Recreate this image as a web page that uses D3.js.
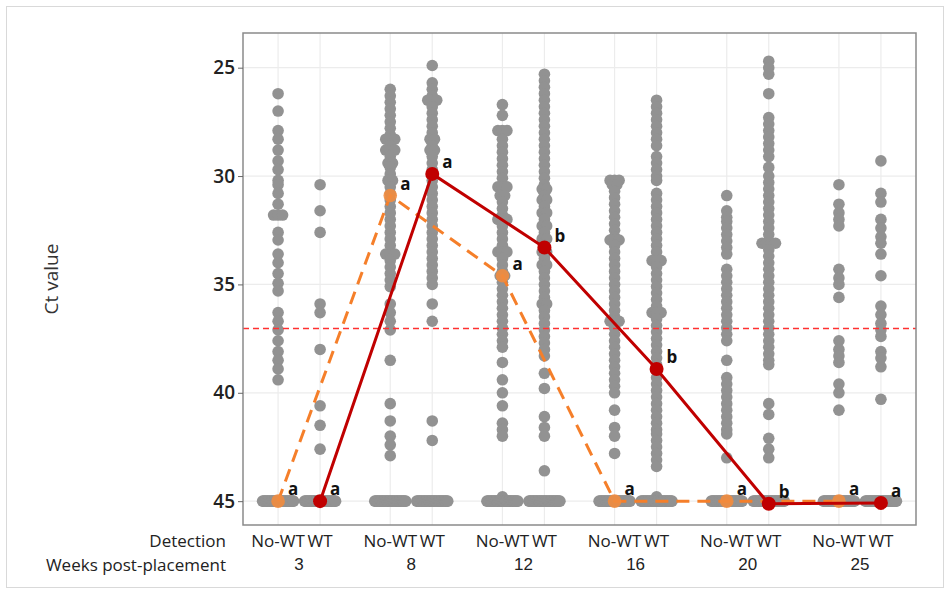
<!DOCTYPE html>
<html>
<head>
<meta charset="utf-8">
<script src="https://cdn.jsdelivr.net/npm/d3@7"></script>
<style>
  body { margin: 0; background: #fff; }
  svg { display: block; font-family: "Open Sans", "Noto Sans", sans-serif; }
  .tick text { fill: #222; }
</style>
</head>
<body>
<div id="chart"></div>
<script>
/* global d3 */

// categories
const weeks = ['3', '8', '12', '16', '20', '25'];
const detection = ['No-WT', 'WT'];
const yTicks = [25, 30, 35, 40, 45];
const threshold = 37;

// group means (Ct) and letters
const meanNoWT = [45, 30.9, 34.6, 45, 45, 45];
const meanWT = [45, 29.9, 33.3, 38.9, 45.12, 45.08];
const lettersNoWT = ['a', 'a', 'a', 'a', 'a', 'a'];
const lettersWT = ['a', 'a', 'b', 'b', 'b', 'a'];

// non-detects (plotted at Ct 45) per category
const nonDetectNoWT = [30, 30, 30, 30, 30, 30];
const nonDetectWT = [30, 30, 30, 30, 30, 30];

// detected Ct values per category
const ctNoWT3 = [26.2, 27.0, 27.9, 28.3, 28.8, 29.3, 29.7, 30.2, 30.4, 30.8, 31.3, 31.8, 31.8, 31.8, 32.6, 32.95, 33.6, 34.0, 34.5, 34.95, 35.3, 36.3, 36.7, 37.1, 37.6, 38.1, 38.5, 38.9, 39.4];
const ctWT3 = [30.4, 31.6, 32.6, 35.9, 36.3, 38.0, 40.6, 41.5, 42.6];
const ctNoWT8 = [26.0, 26.3, 26.6, 26.9, 27.2, 27.5, 27.8, 28.1, 28.3, 28.3, 28.3, 28.6, 28.8, 28.8, 28.8, 29.1, 29.4, 29.4, 29.6, 29.9, 30.2, 30.2, 30.5, 30.8, 31.1, 31.4, 31.7, 32.0, 32.3, 32.6, 32.9, 33.2, 33.6, 33.6, 33.6, 33.9, 34.2, 34.5, 34.8, 35.1, 35.9, 36.3, 36.7, 37.1, 38.5, 40.5, 41.3, 42.0, 42.4, 42.9];
const ctWT8 = [24.9, 25.7, 26.0, 26.3, 26.5, 26.5, 26.5, 26.8, 27.1, 27.4, 27.7, 28.0, 28.3, 28.3, 28.6, 28.8, 28.8, 29.1, 29.4, 29.7, 29.9, 30.0, 30.2, 30.5, 30.8, 31.1, 31.4, 31.7, 32.0, 32.3, 32.6, 32.9, 33.2, 33.5, 33.8, 34.1, 34.4, 34.7, 35.0, 35.9, 36.7, 41.3, 42.2];
const ctNoWT12 = [26.7, 27.2, 27.9, 27.9, 27.9, 28.3, 28.6, 28.9, 29.2, 29.5, 29.8, 30.1, 30.5, 30.5, 30.5, 30.9, 30.9, 31.2, 31.5, 31.8, 32.0, 32.0, 32.0, 32.3, 32.6, 32.9, 33.2, 33.5, 33.5, 33.5, 33.8, 34.1, 34.4, 34.6, 34.6, 34.9, 35.2, 35.5, 35.8, 36.1, 36.4, 36.7, 37.0, 37.3, 37.6, 37.9, 38.6, 39.4, 40.0, 40.6, 41.4, 41.7, 42.0, 44.8];
const ctWT12 = [25.3, 25.6, 25.9, 26.2, 26.5, 26.8, 27.1, 27.4, 27.7, 28.0, 28.3, 28.6, 28.9, 29.2, 29.5, 29.8, 30.1, 30.4, 30.6, 30.6, 30.9, 31.1, 31.1, 31.4, 31.7, 31.7, 32.0, 32.3, 32.3, 32.6, 32.9, 32.9, 33.2, 33.5, 33.5, 33.8, 34.1, 34.1, 34.4, 34.7, 35.0, 35.3, 35.6, 35.9, 35.9, 36.2, 36.5, 36.8, 37.1, 37.4, 37.7, 38.0, 38.3, 39.1, 39.8, 41.1, 41.6, 42.0, 43.6];
const ctNoWT16 = [30.2, 30.2, 30.2, 30.4, 30.4, 30.7, 31.0, 31.3, 31.6, 31.9, 32.2, 32.5, 32.8, 32.95, 32.95, 32.95, 33.2, 33.5, 33.8, 34.1, 34.4, 34.7, 35.0, 35.3, 35.6, 35.9, 36.2, 36.5, 36.7, 36.7, 36.7, 37.0, 37.3, 37.6, 37.9, 38.2, 38.5, 38.8, 39.1, 39.4, 39.7, 40.0, 40.8, 41.6, 42.0, 42.8];
const ctWT16 = [26.5, 26.8, 27.1, 27.4, 27.7, 28.0, 28.3, 28.6, 29.1, 29.4, 29.7, 30.0, 30.2, 30.8, 31.1, 31.4, 31.7, 32.0, 32.3, 32.6, 32.9, 33.2, 33.5, 33.9, 33.9, 33.9, 34.2, 34.5, 34.8, 35.1, 35.4, 35.7, 36.0, 36.3, 36.3, 36.3, 36.6, 36.9, 37.2, 37.5, 37.8, 38.1, 38.4, 38.7, 39.0, 39.3, 39.6, 39.9, 40.2, 40.5, 40.8, 41.1, 41.4, 41.7, 41.9, 42.2, 42.5, 42.8, 43.1, 43.4, 44.8];
const ctNoWT20 = [30.9, 31.6, 31.9, 32.1, 32.4, 32.7, 33.0, 33.3, 33.6, 34.3, 34.6, 34.9, 35.2, 35.5, 35.8, 36.1, 36.4, 36.7, 37.0, 37.3, 37.6, 38.5, 39.3, 39.6, 39.9, 40.2, 40.5, 40.8, 41.1, 41.4, 41.7, 41.9, 43.0];
const ctWT20 = [24.7, 25.0, 25.3, 26.2, 27.3, 27.6, 27.9, 28.2, 28.5, 28.8, 29.1, 29.6, 30.0, 30.3, 30.6, 30.9, 31.2, 31.5, 31.8, 32.1, 32.4, 32.7, 33.1, 33.1, 33.1, 33.1, 33.4, 33.7, 34.0, 34.3, 34.6, 34.9, 35.2, 35.5, 35.8, 36.1, 36.4, 36.7, 37.0, 37.3, 37.6, 37.9, 38.2, 38.5, 38.7, 40.5, 41.0, 42.1, 42.6, 43.0];
const ctNoWT25 = [30.4, 31.3, 31.7, 32.0, 32.3, 34.3, 34.7, 35.0, 35.6, 37.6, 38.0, 38.3, 38.6, 39.6, 40.0, 40.8];
const ctWT25 = [29.3, 30.8, 31.2, 32.0, 32.4, 32.8, 33.1, 33.6, 34.6, 36.0, 36.4, 36.8, 37.1, 37.4, 38.1, 38.4, 38.8, 40.3];

const ctNoWT = [ctNoWT3, ctNoWT8, ctNoWT12, ctNoWT16, ctNoWT20, ctNoWT25];
const ctWT = [ctWT3, ctWT8, ctWT12, ctWT16, ctWT20, ctWT25];

// dimension stuff
const width = 950;
const height = 594;
const plot = { left: 243, top: 33, right: 916, bottom: 525 };

const colorGrey = '#929292';
const colorOrange = '#f57f2a';
const colorRed = '#c00000';

// scales
const x0 = d3.scaleBand().domain(weeks).range([plot.left, plot.right]);
const x1 = d3.scalePoint().domain(detection).range([-21, 21]);
const y = d3.scaleLinear().domain([23.4, 46.1]).range([plot.top, plot.bottom]);
const cx = (w, det) => x0(w) + x0.bandwidth() / 2 + x1(det);

// helper: spread tied values sideways (non-detects fill the category width)
function dodge(values, nd) {
  const all = values.concat(d3.range(nd).map(() => 45));
  const groups = d3.group(all, v => v);
  const out = [];
  groups.forEach((vals, v) => {
    const n = vals.length;
    const step = v === 45 ? 31 / Math.max(n - 1, 1) : 4.5;
    vals.forEach((val, i) => out.push({ v: val, dx: (i - (n - 1) / 2) * step }));
  });
  return out;
}

const points = [];
weeks.forEach((w, i) => {
  dodge(ctNoWT[i], nonDetectNoWT[i]).forEach(p => points.push({ x: cx(w, 'No-WT') + p.dx, v: p.v }));
  dodge(ctWT[i], nonDetectWT[i]).forEach(p => points.push({ x: cx(w, 'WT') + p.dx, v: p.v }));
});

const $svg = d3.select('#chart').append('svg')
  .attr('width', width)
  .attr('height', height);

// outer figure border
$svg.append('rect')
  .attr('x', 6.5).attr('y', 6.5)
  .attr('width', 937).attr('height', 581)
  .attr('fill', 'none')
  .attr('stroke', '#d9d9d9');

// grid
const $grid = $svg.append('g').attr('class', 'g-grid');
$grid.selectAll('line.h')
  .data(yTicks)
  .join('line')
  .attr('class', 'h')
  .attr('x1', plot.left).attr('x2', plot.right)
  .attr('y1', d => y(d)).attr('y2', d => y(d))
  .attr('stroke', '#ececec').attr('stroke-width', 1.2);
const cats = weeks.flatMap(w => detection.map(d => ({ w, d })));
$grid.selectAll('line.v')
  .data(cats)
  .join('line')
  .attr('class', 'v')
  .attr('x1', d => cx(d.w, d.d)).attr('x2', d => cx(d.w, d.d))
  .attr('y1', plot.top).attr('y2', plot.bottom)
  .attr('stroke', '#ececec').attr('stroke-width', 1.2);

// raw points
$svg.append('g').attr('class', 'g-points')
  .selectAll('circle')
  .data(points)
  .join('circle')
  .attr('cx', d => d.x)
  .attr('cy', d => y(d.v))
  .attr('r', 5.8)
  .attr('fill', colorGrey);

// detection threshold
$svg.append('line')
  .attr('x1', plot.left).attr('x2', plot.right)
  .attr('y1', Math.round(y(threshold)) + 0.5).attr('y2', Math.round(y(threshold)) + 0.5)
  .attr('stroke', '#ff3030')
  .attr('stroke-width', 1.5)
  .attr('stroke-dasharray', '6,4');

// mean lines
const line = d3.line().x(d => d.x).y(d => y(d.v));
const seriesNoWT = weeks.map((w, i) => ({ x: cx(w, 'No-WT'), v: meanNoWT[i], l: lettersNoWT[i] }));
const seriesWT = weeks.map((w, i) => ({ x: cx(w, 'WT'), v: meanWT[i], l: lettersWT[i] }));

$svg.append('path')
  .datum(seriesNoWT)
  .attr('d', line)
  .attr('fill', 'none')
  .attr('stroke', colorOrange)
  .attr('stroke-width', 3)
  .attr('stroke-dasharray', '13,8');
$svg.append('g').selectAll('circle')
  .data(seriesNoWT)
  .join('circle')
  .attr('cx', d => d.x).attr('cy', d => y(d.v))
  .attr('r', 6.8)
  .attr('fill', '#f28c3e')
  .attr('fill-opacity', 0.9);

$svg.append('path')
  .datum(seriesWT)
  .attr('d', line)
  .attr('fill', 'none')
  .attr('stroke', colorRed)
  .attr('stroke-width', 3);
$svg.append('g').selectAll('circle')
  .data(seriesWT)
  .join('circle')
  .attr('cx', d => d.x).attr('cy', d => y(d.v))
  .attr('r', 7)
  .attr('fill', colorRed);

// letters
$svg.append('g').selectAll('text')
  .data(seriesNoWT.concat(seriesWT))
  .join('text')
  .attr('x', d => d.x + 10)
  .attr('y', d => y(d.v) - 6)
  .attr('font-size', 17)
  .attr('font-weight', 700)
  .attr('fill', '#111')
  .text(d => d.l);

// panel frame
$svg.append('rect')
  .attr('x', plot.left).attr('y', plot.top)
  .attr('width', plot.right - plot.left)
  .attr('height', plot.bottom - plot.top)
  .attr('fill', 'none')
  .attr('stroke', '#8a8a8a')
  .attr('stroke-width', 1.5);

// y axis
const $yAxis = $svg.append('g')
  .attr('transform', `translate(${plot.left},0)`)
  .call(d3.axisLeft(y).tickValues(yTicks).tickSize(5).tickPadding(3));
$yAxis.select('.domain').remove();
$yAxis.selectAll('.tick line').attr('stroke', '#666');
$yAxis.selectAll('.tick text')
  .attr('font-size', 19)
  .attr('font-weight', 600)
  .attr('font-family', '"Open Sans", sans-serif');

$svg.append('text')
  .attr('transform', `translate(58,${(plot.top + plot.bottom) / 2}) rotate(-90)`)
  .attr('text-anchor', 'middle')
  .attr('font-size', 19)
  .attr('fill', '#333')
  .text('Ct value');

// x axis: detection row + weeks row
const $xAxis = $svg.append('g')
  .attr('transform', 'translate(0,558)')
  .call(d3.axisBottom(x0).tickSize(0).tickPadding(0));
$xAxis.select('.domain').remove();
$xAxis.selectAll('.tick text')
  .attr('font-size', 17)
  .attr('fill', '#222');

$svg.append('g').selectAll('text')
  .data(cats)
  .join('text')
  .attr('x', d => cx(d.w, d.d))
  .attr('y', 547)
  .attr('text-anchor', 'middle')
  .attr('font-size', 17)
  .attr('fill', '#222')
  .text(d => d.d);

$svg.append('text')
  .attr('x', 226).attr('y', 547)
  .attr('text-anchor', 'end')
  .attr('font-size', 17)
  .attr('fill', '#222')
  .text('Detection');
$svg.append('text')
  .attr('x', 226).attr('y', 571)
  .attr('text-anchor', 'end')
  .attr('font-size', 17)
  .attr('fill', '#222')
  .text('Weeks post-placement');
</script>
</body>
</html>
